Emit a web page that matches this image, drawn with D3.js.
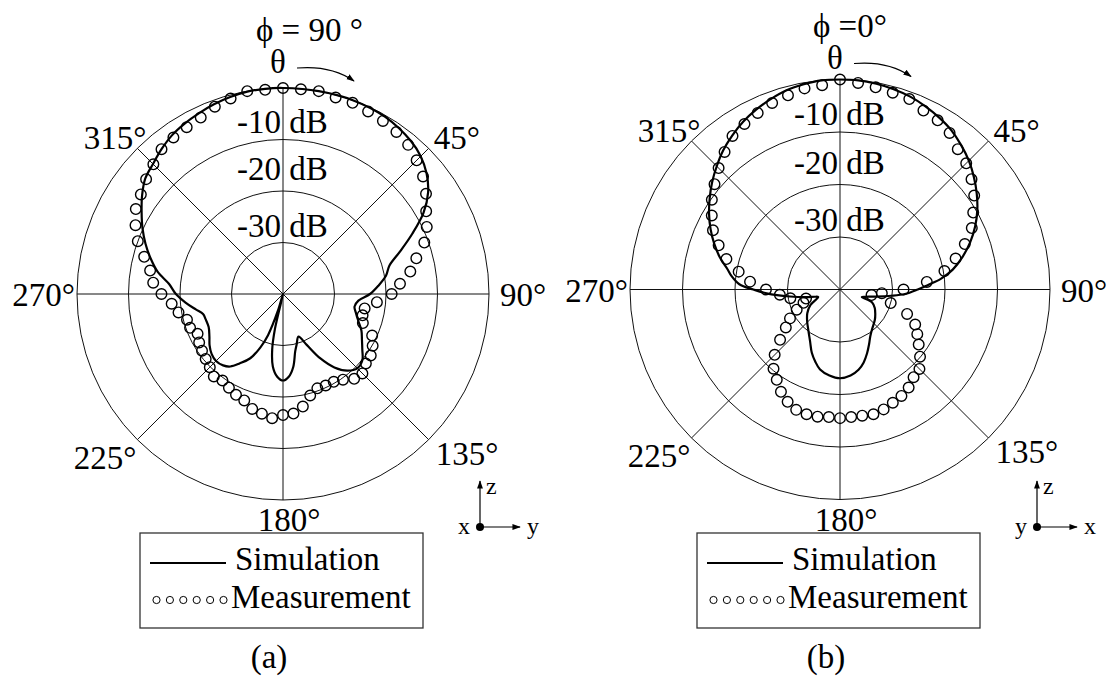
<!DOCTYPE html>
<html>
<head>
<meta charset="utf-8">
<script src="https://cdn.jsdelivr.net/npm/d3@7"></script>
<style>
  body { margin: 0; background: #fff; }
  svg text { fill: #000; }
</style>
</head>
<body>
<svg width="1109" height="683"></svg>
<script>
// measured points every 5 deg of theta
var measAngles = [0, 5, 10, 15, 20, 25, 30, 35, 40, 45, 50, 55, 60, 65, 70, 75, 80, 85,
    90, 95, 100, 105, 110, 115, 120, 125, 130, 135, 140, 145, 150, 155, 160, 165, 170, 175,
    180, 185, 190, 195, 200, 205, 210, 215, 220, 225, 230, 235, 240, 245, 250, 255, 260, 265,
    270, 275, 280, 285, 290, 295, 300, 305, 310, 315, 320, 325, 330, 335, 340, 345, 350, 355];

// (a) phi = 90
var simAnglesA = [0, 10, 20, 30, 40, 45, 50, 55, 60, 65, 70, 75, 80, 85, 90, 95, 100, 105, 110,
    115, 120, 125, 130, 135, 140, 145, 150, 155, 160, 165, 168, 172, 176, 180, 184, 188, 191,
    193, 195, 197, 200, 203, 207, 212, 216, 220, 225, 230, 235, 240, 246, 252, 256, 260, 265,
    270, 275, 280, 285, 290, 295, 300, 305, 310, 315, 320, 325, 330, 335, 340, 345, 350, 355];
var simDbA = [0, 0, 0, -0.3, -1.3, -2.2, -3.6, -5.6, -8.5, -12.3, -15.8, -18.6, -19.7, -21.4,
    -23.1, -25.3, -25.9, -25.3, -24.4, -23.2, -22.3, -21.2, -19.9, -19.6, -20.6, -22.6, -25.6,
    -29.1, -31.2, -29.8, -28.6, -25.7, -23.9, -23.2, -23.9, -25.8, -29, -33, -40, -36.5, -31.5,
    -28.7, -26, -24.1, -22.6, -21.9, -21.6, -21.9, -22.6, -23.5, -24.2, -24.2, -24, -22.8, -21,
    -19.2, -17.8, -15.3, -13.4, -11.6, -9.9, -8.3, -6.6, -5.1, -4.3, -3.3, -2.4, -1.8, -1.3,
    -0.8, -0.4, -0.1, 0];
var measDbA = [0, -0.1, 0, -0.5, -0.5, -0.9, -1.2, -1.6, -2.2, -3.3, -4.5, -6.1, -7.9, -9.2,
    -10.8, -13.2, -14.9, -17.2, -18.9, -21.7, -23.9, -24, -23.5, -20.9, -19.9, -19.2, -19,
    -18.2, -18.5, -19.7, -20.3, -20.4, -20.5, -19.6, -17.8, -16.7, -16.5, -15.8, -16.4, -16.9,
    -18, -18.4, -19, -19.5, -19.1, -19.9, -20.4, -20.8, -21.2, -21.7, -20.8, -20.7, -19.4,
    -18.3, -16.4, -14.7, -13.8, -12.1, -10, -8.4, -7, -6.3, -5.3, -4.4, -3.3, -2.9, -2.6,
    -2.2, -1.3, -0.7, 0, -0.2];

// (b) phi = 0
var simAnglesB = [0, 5, 10, 15, 20, 25, 30, 35, 40, 45, 50, 55, 60, 65, 70, 75, 80, 84, 87, 90,
    94, 97, 102, 106, 109, 112, 118, 125, 131, 140, 147, 152, 157, 162, 167, 173, 180, 187,
    194, 199, 204, 210, 218, 226, 234, 242, 248, 251, 254, 257, 262, 267, 270, 273, 277, 280,
    285, 290, 295, 300, 305, 310, 315, 320, 325, 330, 335, 340, 345, 350, 355];
var simDbB = [0, 0, -0.2, -0.5, -0.9, -1.5, -2.2, -3, -4.1, -5.3, -6.7, -8.2, -9.8, -11.6,
    -13.6, -15.8, -18.2, -20.7, -23.2, -25.2, -27.6, -30.2, -33.5, -35, -35.6, -33.4, -32.5,
    -31.8, -31.2, -30.4, -29.4, -28.2, -26.8, -25.4, -24.3, -23.5, -23.1, -23.5, -24.3, -25.5,
    -26.8, -28.6, -30.2, -31.3, -32.3, -33.6, -35.2, -35.6, -35, -33.5, -30.4, -26, -23.5,
    -20.8, -19.2, -18.3, -16.3, -14.5, -12.8, -11.2, -9.7, -8.2, -6.8, -5.4, -4.2, -3.1, -2.2,
    -1.4, -0.7, -0.3, 0];
var measDbB = [0, -0.5, -0.9, -1.2, -1.4, -2.4, -2.8, -3.6, -5.1, -6, -7.3, -8.8, -10.7, -12.3,
    -14.7, -17.2, -19.8, -23.4, -27.9, -32, -33.9, -30, -26.4, -24.2, -23, -21.7, -20.1, -18.6,
    -18.2, -17.2, -16.6, -16.2, -15.7, -15.4, -15.6, -15.6, -15.5, -15.6, -15.4, -15.4, -15.6,
    -16.4, -17.5, -19, -20.3, -22.4, -25.1, -27.4, -29, -30.9, -32.6, -33.3, -30.4, -28.5,
    -25.9, -22.8, -20.4, -17.6, -15.4, -13.3, -11.8, -10.2, -8.8, -7.3, -5.8, -4.3, -3.6,
    -2.9, -2.2, -1.7, -1.1, -0.95];

var ringLevels = [-30, -20, -10, 0];
var ringLabels = ["-10 dB", "-20 dB", "-30 dB"];
var ringLabelLevels = [-10, -20, -30];
var spokeAngles = [0, 45, 90, 135, 180, 225, 270, 315];
var tickAngles = [45, 90, 135, 180, 225, 270, 315];
var tickLabels = ["45°", "90°", "135°", "180°", "225°", "270°", "315°"];
var legendNames = ["Simulation", "Measurement"];

var panels = [
    { cx: 283, cy: 294, R: 206, simA: simAnglesA, simV: simDbA, meas: measDbA,
      phi: "ϕ = 90", phiDeg: " °", tag: "(a)", axes: ["x", "y"] },
    { cx: 840, cy: 289.5, R: 210, simA: simAnglesB, simV: simDbB, meas: measDbB,
      phi: "ϕ =0", phiDeg: "°", tag: "(b)", axes: ["y", "x"] }
];

var serif = "'Liberation Serif', 'Times New Roman', Times, 'DejaVu Serif', serif";

var svg = d3.select("svg")
    .attr("font-family", serif);
svg.append("rect").attr("width", 1109).attr("height", 683).attr("fill", "#fff");

var defs = svg.append("defs");
defs.append("marker")
    .attr("id", "head")
    .attr("viewBox", "0 0 10 10")
    .attr("refX", 9).attr("refY", 5)
    .attr("markerWidth", 7).attr("markerHeight", 7)
    .attr("orient", "auto")
    .append("path")
    .attr("d", "M0,1.5L10,5L0,8.5Z")
    .attr("fill", "#000");

// label placement next to the spoke ends: anchor, dx, dy
var labelPlace = {
    45: ["start", 5, 1], 90: ["start", 11, 12], 135: ["start", 7, 25], 180: ["middle", 6, 31],
    225: ["end", -1, 29], 270: ["end", -2, 12], 315: ["end", 9, 1]
};
var ringLabelLift = [7, 11, 6];

panels.forEach(drawPanel);

function drawPanel(p) {
    var r = d3.scaleLinear().domain([-40, 0]).range([0, p.R]).clamp(true);
    var rad = function (deg) { return deg * Math.PI / 180; };
    var px = function (deg, rr) { return p.cx + rr * Math.sin(rad(deg)); };
    var py = function (deg, rr) { return p.cy - rr * Math.cos(rad(deg)); };

    var g = svg.append("g").attr("font-family", serif);

    // grid rings
    g.selectAll(".ring")
        .data(ringLevels)
        .enter().append("circle")
        .attr("cx", p.cx).attr("cy", p.cy)
        .attr("r", function (d) { return r(d); })
        .attr("fill", "none")
        .attr("stroke", "#111")
        .attr("stroke-width", 1);

    // spokes
    g.selectAll(".spoke")
        .data(spokeAngles)
        .enter().append("line")
        .attr("x1", p.cx).attr("y1", p.cy)
        .attr("x2", function (d) { return px(d, r(0)); })
        .attr("y2", function (d) { return py(d, r(0)); })
        .attr("stroke", "#111")
        .attr("stroke-width", 1);

    // ring labels, the space falls on the vertical spoke
    g.selectAll(".rl")
        .data(ringLabels)
        .enter().append("text")
        .attr("x", p.cx - 46)
        .attr("y", function (d, i) { return p.cy - r(ringLabelLevels[i]) - ringLabelLift[i]; })
        .attr("font-size", 33)
        .text(function (d) { return d; });

    // angle labels
    g.selectAll(".tick")
        .data(tickAngles)
        .enter().append("text")
        .attr("text-anchor", function (d) { return labelPlace[d][0]; })
        .attr("x", function (d) { return px(d, r(0)) + labelPlace[d][1]; })
        .attr("y", function (d) { return py(d, r(0)) + labelPlace[d][2]; })
        .attr("font-size", 33)
        .text(function (d, i) { return tickLabels[i]; });

    // simulation curve
    var sim = p.simA.map(function (a, i) { return [a, p.simV[i]]; });
    var line = d3.lineRadial()
        .angle(function (d) { return rad(d[0]); })
        .radius(function (d) { return r(d[1]); })
        .curve(d3.curveCatmullRomClosed.alpha(0.5));
    g.append("path")
        .attr("transform", "translate(" + p.cx + "," + p.cy + ")")
        .attr("d", line(sim))
        .attr("fill", "none")
        .attr("stroke", "#000")
        .attr("stroke-width", 2.2)
        .attr("stroke-linejoin", "round");

    // measurement circles
    g.selectAll(".meas")
        .data(measAngles)
        .enter().append("circle")
        .attr("cx", function (d, i) { return px(d, r(p.meas[i])); })
        .attr("cy", function (d, i) { return py(d, r(p.meas[i])); })
        .attr("r", 5.3)
        .attr("fill", "none")
        .attr("stroke", "#000")
        .attr("stroke-width", 1.4);

    // title and theta arrow
    var title = g.append("text")
        .attr("x", p.cx - 27)
        .attr("y", p.cy - 253)
        .attr("font-size", 33)
        .text(p.phi);
    title.append("tspan").text(p.phiDeg);

    g.append("text")
        .attr("x", p.cx - 5)
        .attr("y", p.cy - 221)
        .attr("text-anchor", "middle")
        .attr("font-size", 33)
        .text("θ");
    g.append("path")
        .attr("d", "M" + (p.cx + 14) + "," + (p.cy - 226) +
            " Q" + (p.cx + 48) + "," + (p.cy - 229) + " " + (p.cx + 71) + "," + (p.cy - 213))
        .attr("fill", "none")
        .attr("stroke", "#000")
        .attr("stroke-width", 1.2)
        .attr("marker-end", "url(#head)");

    // legend
    var lx = p.cx - 143, ly = 533;
    g.append("rect")
        .attr("x", lx).attr("y", ly)
        .attr("width", 283).attr("height", 95)
        .attr("fill", "none")
        .attr("stroke", "#333")
        .attr("stroke-width", 1.3);
    g.append("line")
        .attr("x1", p.cx - 133).attr("x2", p.cx - 57)
        .attr("y1", 563).attr("y2", 563)
        .attr("stroke", "#000")
        .attr("stroke-width", 2);
    g.selectAll(".legdot")
        .data([0, 1, 2, 3, 4, 5])
        .enter().append("circle")
        .attr("cx", function (d) { return p.cx - 126.5 + d * 13.4; })
        .attr("cy", 600)
        .attr("r", 3.6)
        .attr("fill", "none")
        .attr("stroke", "#000")
        .attr("stroke-width", 1);
    g.append("text")
        .attr("x", p.cx - 48).attr("y", 570)
        .attr("font-size", 33)
        .text(legendNames[0]);
    g.append("text")
        .attr("x", p.cx - 52).attr("y", 608)
        .attr("font-size", 33)
        .text(legendNames[1]);

    // sub caption
    g.append("text")
        .attr("x", p.cx - 14).attr("y", 668)
        .attr("text-anchor", "middle")
        .attr("font-size", 33)
        .text(p.tag);

    // coordinate icon
    var ox = p.cx + 197, oy = 527;
    g.append("line")
        .attr("x1", ox).attr("y1", oy).attr("x2", ox).attr("y2", oy - 46)
        .attr("stroke", "#000").attr("stroke-width", 1.2)
        .attr("marker-end", "url(#head)");
    g.append("line")
        .attr("x1", ox).attr("y1", oy).attr("x2", ox + 40).attr("y2", oy)
        .attr("stroke", "#000").attr("stroke-width", 1.2)
        .attr("marker-end", "url(#head)");
    g.append("circle")
        .attr("cx", ox).attr("cy", oy).attr("r", 4)
        .attr("fill", "#000");
    g.append("text")
        .attr("x", ox + 6).attr("y", oy - 33)
        .attr("font-size", 24)
        .text("z");
    g.append("text")
        .attr("x", ox - 10).attr("y", oy + 7)
        .attr("text-anchor", "end")
        .attr("font-size", 24)
        .text(p.axes[0]);
    g.append("text")
        .attr("x", ox + 47).attr("y", oy + 7)
        .attr("font-size", 24)
        .text(p.axes[1]);
}
</script>
</body>
</html>
